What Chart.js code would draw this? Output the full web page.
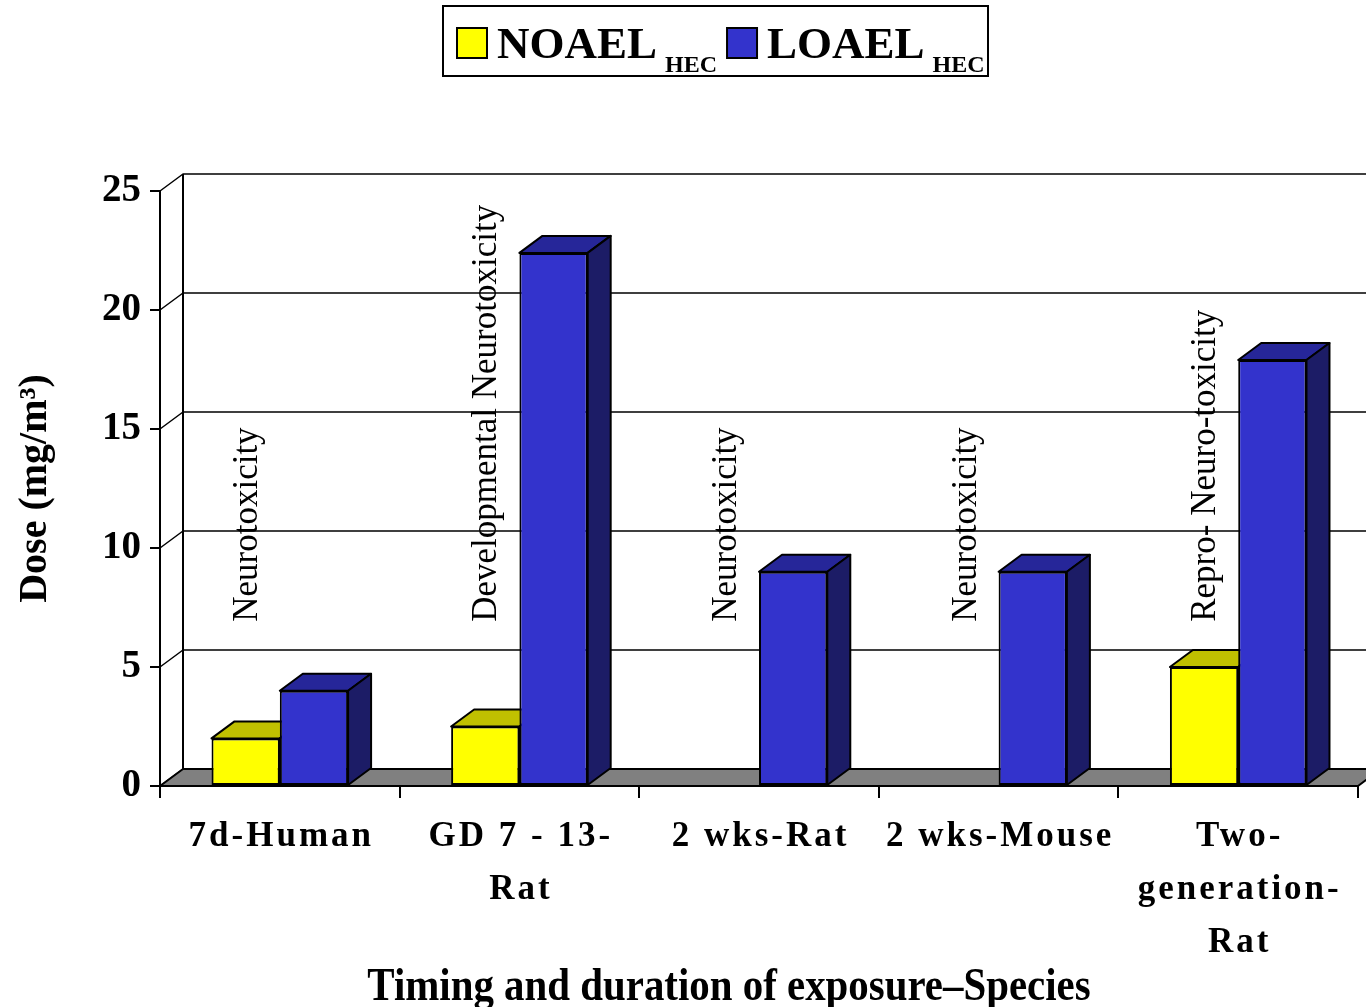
<!DOCTYPE html>
<html>
<head>
<meta charset="utf-8">
<script src="https://cdn.jsdelivr.net/npm/chart.js@4.4.1/dist/chart.umd.min.js"></script>
<style>
  html, body { margin: 0; padding: 0; background: #fff; }
  #wrap { position: relative; width: 1366px; height: 1007px; }
</style>
</head>
<body>
<div id="wrap"><canvas id="dose-chart"></canvas></div>
<script>
// chart data
var categories = [['7d-Human'], ['GD 7 - 13-', 'Rat'], ['2 wks-Rat'], ['2 wks-Mouse'], ['Two-', 'generation-', 'Rat']];
var seriesNames = ['NOAEL', 'LOAEL'];
var seriesSub = 'HEC';
var noael = [2, 2.5, null, null, 5];
var loael = [4, 22.4, 9, 9, 17.9];
var endpoints = ['Neurotoxicity', 'Developmental Neurotoxicity', 'Neurotoxicity', 'Neurotoxicity', 'Repro- Neuro-toxicity'];
var yTicks = [0, 5, 10, 15, 20, 25];
var xTitle = 'Timing and duration of exposure\u2013Species';
var yTitle = 'Dose (mg/m\u00b3)';

// front / top / side colours of the 3d bars
var faces = [
  {front: '#ffff00', top: '#c0c000', side: '#808000'},
  {front: '#3333cc', top: '#262699', side: '#1c1c66'}
];
var DX = 23, DY = 17;   // depth of the 3d box
var serif = '"Liberation Serif", "Times New Roman", serif';

Chart.defaults.font.family = serif;
Chart.defaults.color = '#000';

function poly(ctx, pts, fill) {
  ctx.beginPath();
  ctx.moveTo(pts[0][0], pts[0][1]);
  for (var i = 1; i < pts.length; i++) ctx.lineTo(pts[i][0], pts[i][1]);
  ctx.closePath();
  if (fill) { ctx.fillStyle = fill; ctx.fill(); }
  ctx.stroke();
}

var box3d = {
  id: 'box3d',
  beforeDatasetsDraw: function(chart) {
    var ctx = chart.ctx, a = chart.chartArea, y = chart.scales.y;
    ctx.save();
    ctx.strokeStyle = '#000';
    ctx.lineJoin = 'round';
    // left wall + back wall grid
    ctx.lineWidth = 1.5;
    yTicks.forEach(function(t) {
      var py = y.getPixelForValue(t);
      ctx.beginPath();
      ctx.moveTo(a.left, py);
      ctx.lineTo(a.left + DX, py - DY);
      if (t > 0) ctx.lineTo(a.right + DX, py - DY);
      ctx.stroke();
    });
    ctx.lineWidth = 2;
    ctx.beginPath();
    ctx.moveTo(a.left + DX, a.top - DY);
    ctx.lineTo(a.left + DX, a.bottom - DY);
    ctx.stroke();
    // floor
    poly(ctx, [[a.left, a.bottom], [a.left + DX, a.bottom - DY], [a.right + DX, a.bottom - DY], [a.right, a.bottom]], '#808080');
    // top and side faces, fronts are drawn by chart.js on top
    chart.data.datasets.forEach(function(ds, di) {
      chart.getDatasetMeta(di).data.forEach(function(bar, i) {
        if (ds.data[i] == null) return;
        var p = bar.getProps(['x', 'y', 'base', 'width'], true);
        var x0 = p.x - p.width / 2, x1 = p.x + p.width / 2;
        poly(ctx, [[x0, p.y], [x0 + DX, p.y - DY], [x1 + DX, p.y - DY], [x1, p.y]], faces[di].top);
        poly(ctx, [[x1, p.y], [x1 + DX, p.y - DY], [x1 + DX, p.base - DY], [x1, p.base]], faces[di].side);
      });
    });
    ctx.restore();
  },
  afterDatasetsDraw: function(chart) {
    var ctx = chart.ctx, x = chart.scales.x, y = chart.scales.y;
    var barW = chart.getDatasetMeta(1).data[0].width;
    var ny = y.getPixelForValue(6.9);
    ctx.save();
    ctx.fillStyle = '#000';
    ctx.font = '35px ' + serif;
    ctx.textAlign = 'left';
    ctx.textBaseline = 'middle';
    endpoints.forEach(function(s, i) {
      var px = x.getPixelForValue(i) - barW / 2 + 2;
      ctx.save();
      ctx.translate(px, ny);
      ctx.rotate(-Math.PI / 2);
      ctx.fillText(s, 0, 0);
      ctx.restore();
    });
    ctx.restore();
  },
  afterDraw: function(chart) {
    var ctx = chart.ctx, a = chart.chartArea, x = chart.scales.x;
    ctx.save();
    ctx.fillStyle = '#000';
    ctx.strokeStyle = '#000';
    // category labels, spaced out like the original
    ctx.font = 'bold 35px ' + serif;
    ctx.letterSpacing = '3px';
    ctx.textAlign = 'center';
    ctx.textBaseline = 'alphabetic';
    categories.forEach(function(lines, i) {
      var px = x.getPixelForValue(i);
      lines.forEach(function(s, k) {
        ctx.fillText(s, px + 1.5, a.bottom + 60 + 53 * k);
      });
    });
    ctx.letterSpacing = '0px';
    // x axis title, narrow like the original
    ctx.save();
    ctx.font = 'bold 47px ' + serif;
    ctx.translate(729, 1000);
    ctx.scale(0.87, 1);
    ctx.fillText(xTitle, 0, 0);
    ctx.restore();
    // legend with subscripts
    ctx.lineWidth = 2;
    ctx.strokeRect(443, 6, 545, 70);
    ctx.textAlign = 'left';
    var lx = 457, ly = 28, sq = 30;
    seriesNames.forEach(function(name, i) {
      ctx.fillStyle = faces[i].front;
      ctx.fillRect(lx, ly, sq, sq);
      ctx.strokeRect(lx, ly, sq, sq);
      ctx.fillStyle = '#000';
      ctx.font = 'bold 45px ' + serif;
      ctx.fillText(name, lx + 40, ly + sq);
      var w = ctx.measureText(name).width;
      ctx.font = 'bold 24px ' + serif;
      ctx.fillText(seriesSub, lx + 48 + w, ly + sq + 14);
      lx = lx + 46 + w + ctx.measureText(seriesSub).width + 12;
    });
    ctx.restore();
  }
};

var ctx = document.getElementById('dose-chart').getContext('2d');
var chart = new Chart(ctx, {
  type: 'bar',
  data: {
    labels: categories,
    datasets: [
      {label: seriesNames[0], data: noael, backgroundColor: faces[0].front},
      {label: seriesNames[1], data: loael, backgroundColor: faces[1].front}
    ]
  },
  options: {
    responsive: true,
    maintainAspectRatio: false,
    devicePixelRatio: 1,
    animation: false,
    categoryPercentage: 0.57,
    barPercentage: 1,
    borderColor: '#000',
    borderWidth: 2,
    borderSkipped: false,
    layout: {padding: {top: 191, right: 8, left: 0, bottom: 0}},
    plugins: {legend: {display: false}, tooltip: {enabled: false}},
    scales: {
      x: {
        grid: {drawOnChartArea: false, drawTicks: true, tickLength: 12, color: '#000', lineWidth: 2},
        border: {display: true, color: '#000', width: 2},
        ticks: {display: false},
        afterFit: function(scale) { scale.height = 221; }
      },
      y: {
        min: yTicks[0],
        max: yTicks[yTicks.length - 1],
        ticks: {stepSize: 5, padding: 9, font: {size: 39, weight: 'bold'}},
        grid: {drawOnChartArea: false, drawTicks: true, tickLength: 10, color: '#000', lineWidth: 2},
        border: {display: true, color: '#000', width: 2},
        title: {display: true, text: yTitle, font: {size: 40, weight: 'bold'}, padding: {top: 12, bottom: 0}},
        afterFit: function(scale) { scale.width = 160; }
      }
    }
  },
  plugins: [box3d]
});
</script>
</body>
</html>
